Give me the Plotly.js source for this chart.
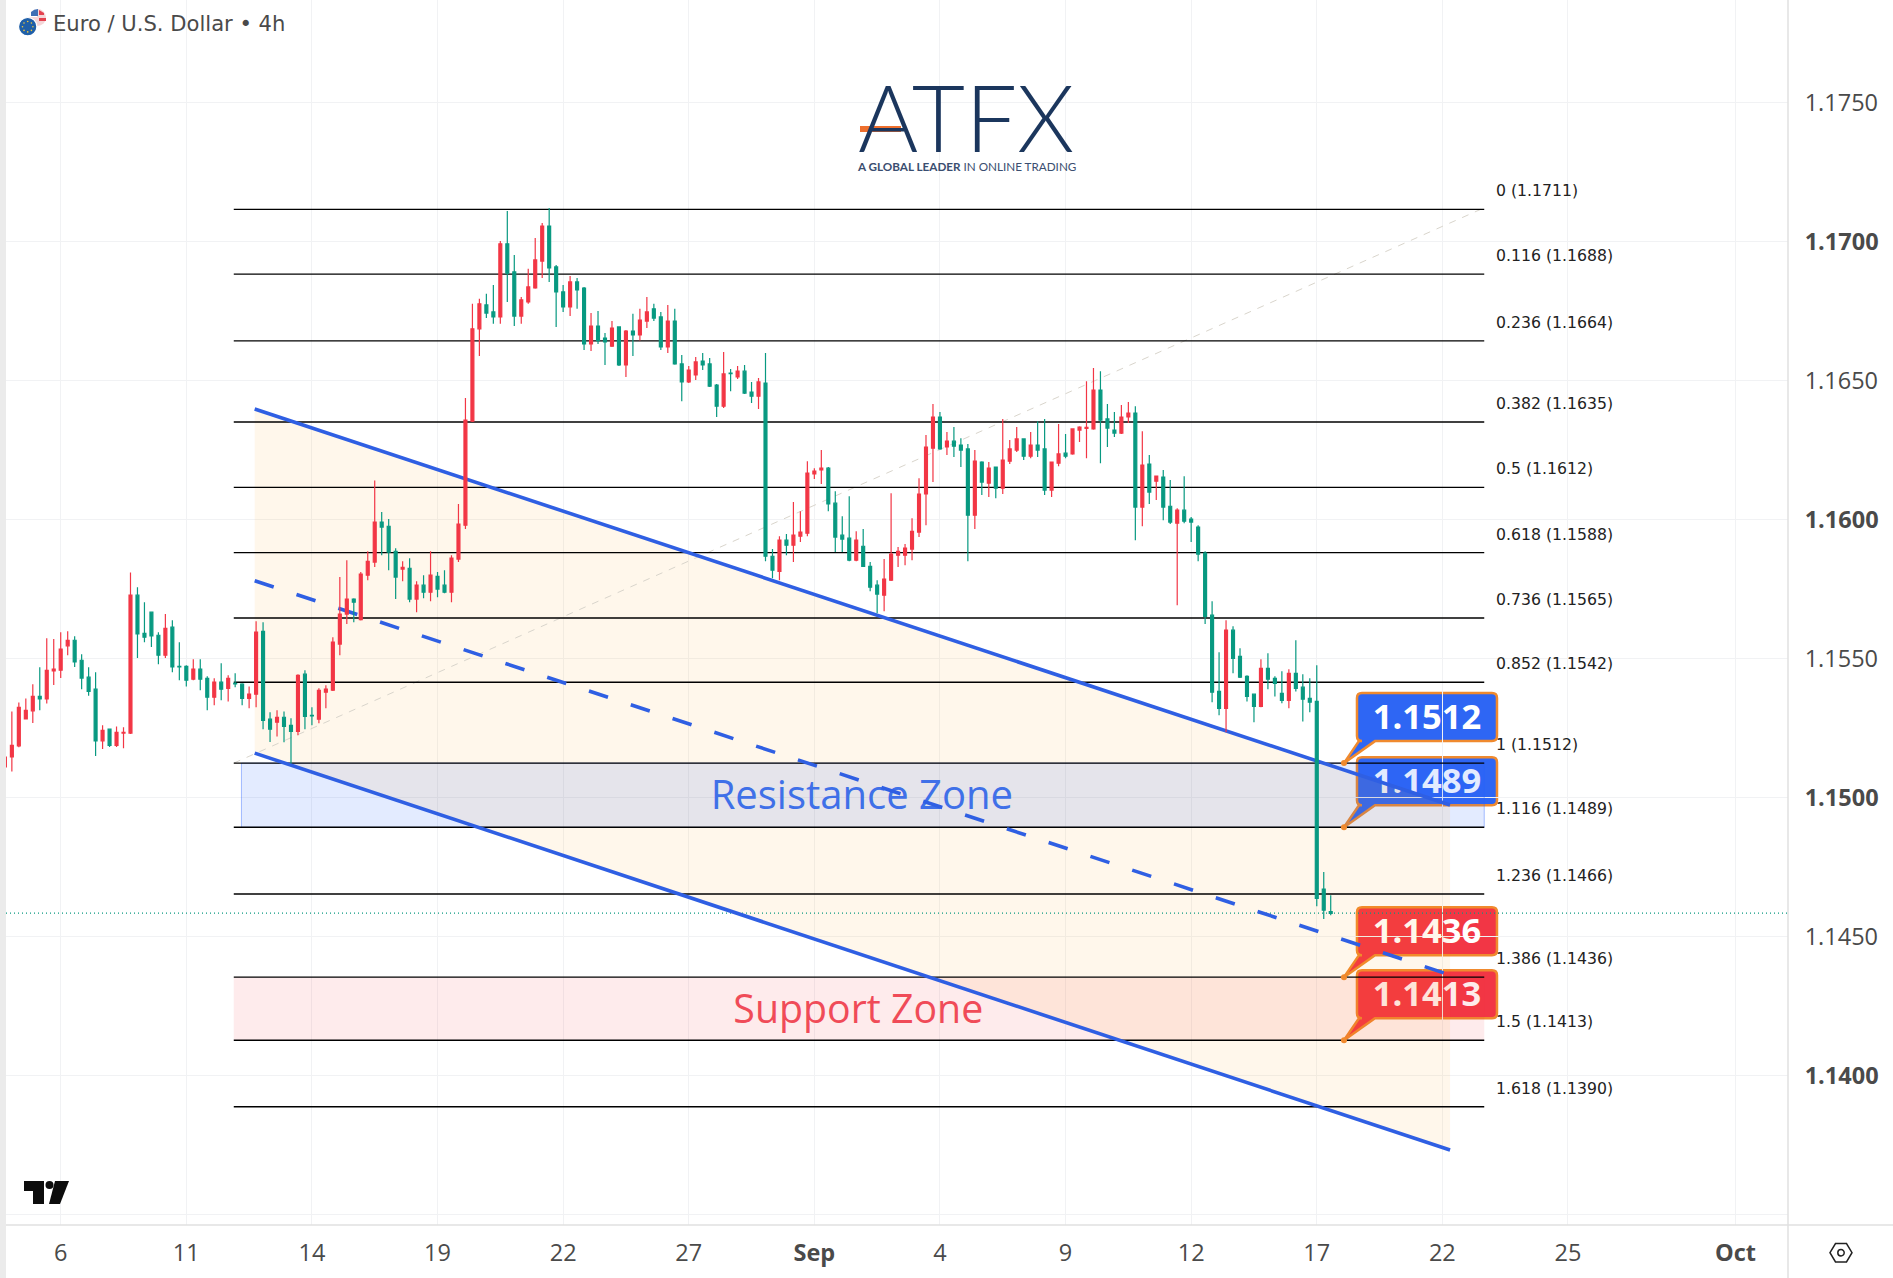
<!DOCTYPE html>
<html>
<head>
<meta charset="utf-8">
<script src="https://cdn.plot.ly/plotly-3.0.1.min.js"></script>
<style>
  html, body { margin: 0; padding: 0; background: #fff; }
  #chart { width: 1893px; height: 1278px; }
</style>
</head>
<body>
<div id="chart"></div>
<script>
// EUR/USD 4h candles, one row per 10 bars (red = up, green = down)
var opens = [
  1.15109,1.15145,1.15185,1.15282,1.15311,1.15363,1.15354,1.15455,1.15457,1.15545,
  1.15565,1.15493,1.15432,1.15389,1.15203,1.15245,1.15187,1.15231,1.15231,1.15727,
  1.15590,1.15666,1.15583,1.15511,1.15612,1.15471,1.15471,1.15425,1.15461,1.15428,
  1.15360,1.15414,1.15392,1.15410,1.15407,1.15356,1.15371,1.15597,1.15281,1.15270,
  1.15288,1.15259,1.15237,1.15443,1.15295,1.15281,1.15378,1.15385,1.15551,1.15659,
  1.15713,1.15639,1.15799,1.15846,1.15990,1.15975,1.15885,1.15821,1.15824,1.15713,
  1.15763,1.15738,1.15795,1.15763,1.15738,1.15857,1.15979,1.16353,1.16685,1.16771,
  1.16746,1.16728,1.16991,1.16890,1.16731,1.16782,1.16832,1.16929,1.17055,1.16908,
  1.16818,1.16764,1.16854,1.16832,1.16631,1.16695,1.16652,1.16623,1.16692,1.16555,
  1.16677,1.16663,1.16713,1.16757,1.16728,1.16620,1.16713,1.16559,1.16494,1.16519,
  1.16569,1.16559,1.16483,1.16407,1.16526,1.16512,1.16533,1.16458,1.16443,1.16490,
  1.15867,1.15813,1.15925,1.15907,1.15939,1.15950,1.16163,1.16178,1.16184,1.16058,
  1.15943,1.15932,1.15853,1.15903,1.15831,1.15763,1.15727,1.15781,1.15871,1.15871,
  1.15893,1.15954,1.16091,1.16256,1.16368,1.16260,1.16281,1.16267,1.16253,1.16015,
  1.16206,1.16130,1.16188,1.16112,1.16209,1.16249,1.16289,1.16227,1.16267,1.16253,
  1.16105,1.16202,1.16238,1.16235,1.16321,1.16327,1.16325,1.16465,1.16361,1.16321,
  1.16310,1.16368,1.16382,1.16044,1.16199,1.16137,1.16152,1.16047,1.15986,1.16033,
  1.16001,1.15972,1.15878,1.15655,1.15381,1.15320,1.15601,1.15507,1.15435,1.15371,
  1.15327,1.15464,1.15428,1.15374,1.15349,1.15446,1.15396,1.15356,1.15345,1.14670,
  1.14589
];
var highs = [
  1.15147,1.15309,1.15341,1.15355,1.15407,1.15468,1.15572,1.15569,1.15594,1.15597,
  1.15579,1.15515,1.15468,1.15450,1.15259,1.15247,1.15255,1.15252,1.15809,1.15756,
  1.15702,1.15668,1.15594,1.15659,1.15637,1.15558,1.15475,1.15497,1.15497,1.15435,
  1.15428,1.15482,1.15439,1.15446,1.15410,1.15399,1.15633,1.15630,1.15306,1.15313,
  1.15309,1.15284,1.15443,1.15457,1.15324,1.15392,1.15403,1.15576,1.15792,1.15853,
  1.15716,1.15810,1.15885,1.16140,1.16026,1.16001,1.15896,1.15849,1.15860,1.15777,
  1.15799,1.15885,1.15810,1.15817,1.15871,1.16055,1.16436,1.16775,1.16793,1.16811,
  1.16843,1.17001,1.17109,1.16951,1.16800,1.16901,1.17012,1.17066,1.17120,1.16915,
  1.16843,1.16875,1.16868,1.16836,1.16742,1.16749,1.16670,1.16713,1.16694,1.16681,
  1.16739,1.16757,1.16800,1.16775,1.16746,1.16771,1.16757,1.16591,1.16551,1.16584,
  1.16598,1.16580,1.16487,1.16602,1.16541,1.16551,1.16555,1.16494,1.16508,1.16598,
  1.15893,1.15939,1.15947,1.16062,1.16029,1.16209,1.16184,1.16249,1.16188,1.16101,
  1.16011,1.16083,1.15957,1.15965,1.15846,1.15781,1.15857,1.16094,1.15900,1.15911,
  1.16004,1.16148,1.16303,1.16415,1.16386,1.16314,1.16332,1.16292,1.16271,1.16249,
  1.16209,1.16206,1.16190,1.16361,1.16285,1.16332,1.16291,1.16314,1.16353,1.16361,
  1.16208,1.16343,1.16307,1.16327,1.16335,1.16497,1.16544,1.16533,1.16415,1.16386,
  1.16411,1.16422,1.16407,1.16317,1.16231,1.16158,1.16177,1.16141,1.16040,1.16155,
  1.16008,1.15979,1.15885,1.15705,1.15522,1.15637,1.15615,1.15536,1.15439,1.15373,
  1.15497,1.15518,1.15435,1.15453,1.15461,1.15565,1.15443,1.15428,1.15475,1.14731,
  1.14648
];
var lows = [
  1.15073,1.15093,1.15180,1.15280,1.15267,1.15313,1.15337,1.15404,1.15429,1.15511,
  1.15469,1.15389,1.15365,1.15149,1.15174,1.15181,1.15181,1.15176,1.15228,1.15501,
  1.15558,1.15541,1.15479,1.15501,1.15450,1.15421,1.15399,1.15421,1.15385,1.15313,
  1.15331,1.15349,1.15345,1.15396,1.15331,1.15320,1.15324,1.15245,1.15199,1.15219,
  1.15198,1.15122,1.15223,1.15245,1.15259,1.15266,1.15320,1.15382,1.15511,1.15623,
  1.15630,1.15636,1.15781,1.15828,1.15871,1.15817,1.15713,1.15777,1.15702,1.15666,
  1.15716,1.15705,1.15720,1.15734,1.15702,1.15846,1.15965,1.16350,1.16587,1.16724,
  1.16703,1.16703,1.16782,1.16695,1.16703,1.16775,1.16829,1.16868,1.16854,1.16692,
  1.16746,1.16731,1.16757,1.16609,1.16605,1.16631,1.16555,1.16620,1.16551,1.16512,
  1.16587,1.16643,1.16688,1.16713,1.16609,1.16598,1.16556,1.16425,1.16490,1.16501,
  1.16537,1.16476,1.16368,1.16400,1.16461,1.16505,1.16451,1.16418,1.16397,1.15849,
  1.15788,1.15781,1.15871,1.15846,1.15918,1.15939,1.16145,1.16127,1.16029,1.15882,
  1.15882,1.15849,1.15849,1.15828,1.15741,1.15662,1.15669,1.15778,1.15828,1.15835,
  1.15853,1.15936,1.15979,1.16134,1.16250,1.16231,1.16224,1.16188,1.15849,1.15965,
  1.16087,1.16080,1.16076,1.16091,1.16199,1.16242,1.16213,1.16220,1.16224,1.16087,
  1.16080,1.16191,1.16220,1.16232,1.16278,1.16220,1.16322,1.16202,1.16260,1.16296,
  1.16307,1.16346,1.15925,1.15975,1.16055,1.16069,1.15997,1.15983,1.15691,1.15986,
  1.15918,1.15849,1.15623,1.15342,1.15295,1.15234,1.15446,1.15429,1.15345,1.15270,
  1.15324,1.15389,1.15363,1.15338,1.15320,1.15381,1.15273,1.15306,1.14608,1.14562,
  1.14576
];
var closes = [
  1.15145,1.15187,1.15324,1.15313,1.15363,1.15354,1.15457,1.15461,1.15533,1.15565,
  1.15487,1.15429,1.15381,1.15203,1.15241,1.15187,1.15234,1.15234,1.15727,1.15588,
  1.15576,1.15581,1.15511,1.15608,1.15469,1.15469,1.15421,1.15461,1.15425,1.15360,
  1.15414,1.15389,1.15428,1.15408,1.15356,1.15371,1.15594,1.15277,1.15245,1.15288,
  1.15255,1.15237,1.15439,1.15291,1.15293,1.15385,1.15389,1.15558,1.15659,1.15713,
  1.15702,1.15803,1.15849,1.15990,1.15972,1.15882,1.15792,1.15827,1.15713,1.15763,
  1.15738,1.15799,1.15749,1.15738,1.15860,1.15983,1.16357,1.16685,1.16775,1.16742,
  1.16728,1.16991,1.16885,1.16731,1.16789,1.16836,1.16933,1.17055,1.16904,1.16818,
  1.16764,1.16854,1.16825,1.16631,1.16695,1.16643,1.16638,1.16688,1.16555,1.16677,
  1.16663,1.16717,1.16746,1.16724,1.16620,1.16713,1.16559,1.16494,1.16537,1.16566,
  1.16555,1.16479,1.16407,1.16523,1.16524,1.16533,1.16454,1.16443,1.16494,1.15867,
  1.15817,1.15925,1.15907,1.15943,1.15954,1.16166,1.16173,1.16184,1.16055,1.15936,
  1.15929,1.15853,1.15925,1.15831,1.15756,1.15731,1.15785,1.15875,1.15885,1.15896,
  1.15957,1.16091,1.16260,1.16368,1.16253,1.16281,1.16263,1.16249,1.16015,1.16209,
  1.16134,1.16184,1.16112,1.16213,1.16253,1.16289,1.16227,1.16267,1.16249,1.16105,
  1.16206,1.16235,1.16227,1.16325,1.16332,1.16331,1.16465,1.16357,1.16328,1.16310,
  1.16368,1.16382,1.16044,1.16195,1.16098,1.16155,1.16044,1.15990,1.16033,1.15993,
  1.15990,1.15875,1.15651,1.15378,1.15320,1.15601,1.15500,1.15432,1.15363,1.15327,
  1.15464,1.15425,1.15410,1.15349,1.15446,1.15392,1.15353,1.15342,1.14636,1.14594,
  1.14582
];
var firstBar = -8;
var barIndex = opens.map(function (v, i) { return firstBar + i; });

// time axis, bar index of each labelled session (Aug 6 = 0, 6 bars a day)
var xTickVals = [0, 18, 36, 54, 72, 90, 108, 126, 144, 162, 180, 198, 216, 240];
var xTickText = ['6', '11', '14', '19', '22', '27', '<b>Sep</b>', '4', '9', '12', '17', '22', '25', '<b>Oct</b>'];

var yTickVals = [1.135, 1.14, 1.145, 1.15, 1.155, 1.16, 1.165, 1.17, 1.175];
var yTickText = ['', '<b>1.1400</b>', '1.1450', '<b>1.1500</b>', '1.1550', '<b>1.1600</b>', '1.1650', '<b>1.1700</b>', '1.1750'];

// fibonacci retracement
var fibPrices = [1.17115, 1.16882, 1.16642, 1.16350, 1.16115, 1.15880, 1.15645, 1.15414, 1.15123, 1.14892, 1.14652, 1.14353, 1.14126, 1.13887];
var fibLabels = ['0 (1.1711)', '0.116 (1.1688)', '0.236 (1.1664)', '0.382 (1.1635)', '0.5 (1.1612)', '0.618 (1.1588)',
  '0.736 (1.1565)', '0.852 (1.1542)', '1 (1.1512)', '1.116 (1.1489)', '1.236 (1.1466)', '1.386 (1.1436)', '1.5 (1.1413)', '1.618 (1.1390)'];
var fibSpan = [24.8, 204];
var fibTrendX = [24.8, 203.5];
var fibTrendY = [1.15123, 1.17115];

// descending channel
var channelX = [27.8, 199.1];
var channelUpper = [1.16397, 1.14972];
var channelMiddle = [1.15779, 1.14361];
var channelLower = [1.15159, 1.13731];

var resistanceSpan = [25.9, 204];
var resistanceLevels = [1.15123, 1.14892];
var supportSpan = [24.8, 204];
var supportLevels = [1.14353, 1.14126];

var calloutBar = 183.9;
var calloutPrices = [1.15123, 1.14892, 1.14353, 1.14126];
var calloutTexts = ['1.1512', '1.1489', '1.1436', '1.1413'];
var calloutColors = ['#2E66F4', '#2E66F4', '#F23645', '#F23645'];
var calloutLabelBar = 195.8;
var calloutLabelLift = 0.00153;

var lastPrice = 1.14583;
var xRange = [-7.84, 247.53];
var yRange = [1.134615, 1.17868];

// page pixel -> paper fraction, for the chrome that is not tied to the data
var PLOT_W = 1782, PLOT_H = 1225, LEFT = 6;
function px(x) { return (x - LEFT) / PLOT_W; }
function py(y) { return 1 - y / PLOT_H; }

var FONT = '"Open Sans", sans-serif';
var ORANGE = '#F08A2E';

function chrome(extra) {
  return Object.assign({
    layer: 'above', xref: 'paper', yref: 'paper',
    xsizemode: 'pixel', ysizemode: 'pixel', xanchor: px(0), yanchor: 1,
    line: { width: 0 }
  }, extra);
}
function dot(cx, cy, r, color, lineColor, lineWidth) {
  return chrome({
    type: 'circle', x0: cx - r, x1: cx + r, y0: -cy - r, y1: -cy + r,
    fillcolor: color, line: { color: lineColor || color, width: lineWidth || 0 }
  });
}
function calloutShape(price, color) {
  var path = 'M0,0 L15,22 L18,22 Q13,22 13,27 L13,65 Q13,70 18,70 L148,70 Q153,70 153,65 ' +
    'L153,27 Q153,22 148,22 L31,22 Z';
  return {
    type: 'path', layer: 'below', xref: 'x', yref: 'y',
    xsizemode: 'pixel', ysizemode: 'pixel', xanchor: calloutBar, yanchor: price,
    path: path, fillcolor: color, line: { color: ORANGE, width: 2.5 }
  };
}

var shapes = calloutPrices.map(function (p, i) { return calloutShape(p, calloutColors[i]); });

// left strip, axis borders
shapes.push(chrome({ type: 'rect', x0: 0, x1: 6, y0: 0, y1: -1278, fillcolor: '#EBEBEB' }));
shapes.push(chrome({ type: 'path', path: 'M6,-1225 L1893,-1225', line: { color: '#E0E0E0', width: 1.5 } }));
shapes.push(chrome({ type: 'path', path: 'M1788,0 L1788,-1278', line: { color: '#E0E0E0', width: 1.5 } }));

// tradingview mark
shapes.push(chrome({ type: 'path', path: 'M24,-1181 L44,-1181 L44,-1204 L33,-1204 L33,-1191 L24,-1191 Z', fillcolor: '#0C0C0C' }));
shapes.push(dot(49.5, 1185, 4, '#0C0C0C'));
shapes.push(chrome({ type: 'path', path: 'M55,-1181 L69,-1181 L60,-1204 L49,-1204 Z', fillcolor: '#0C0C0C' }));

// chart settings icon
shapes.push(chrome({ type: 'path', path: 'M1830,-1252.7 L1835.5,-1243.5 L1846.5,-1243.5 L1852,-1252.7 L1846.5,-1262 L1835.5,-1262 Z',
  fillcolor: 'rgba(0,0,0,0)', line: { color: '#222', width: 1.5 } }));
shapes.push(dot(1841, 1252.7, 3.2, '#fff', '#222', 1.5));

// currency pair flags
shapes.push(dot(37.5, 17.5, 8.5, '#F4D6D8'));
shapes.push(chrome({ type: 'path', path: 'M29,-17 Q30,-9 37,-9 L37,-17 Z', fillcolor: '#fff' }));
shapes.push(chrome({ type: 'path', path: 'M31,-12 Q34,-9 38,-9 L38,-16 L31,-16 Z', fillcolor: '#3F6FB5' }));
shapes.push(chrome({ type: 'path', path: 'M39,-10 L44,-13 L44,-15 L39,-15 Z', fillcolor: '#E4414E' }));
shapes.push(chrome({ type: 'path', path: 'M39,-18 L46,-18 L46,-21 L39,-21 Z', fillcolor: '#E4414E' }));
shapes.push(dot(27.7, 26.7, 9.2, '#1F5FA8', '#fff', 1.2));
[[27.7, 21.5], [31.4, 23], [32.9, 26.7], [31.4, 30.4], [27.7, 31.9], [24, 30.4], [22.5, 26.7], [24, 23]].forEach(function (c) {
  shapes.push(dot(c[0], c[1], 0.8, '#F2C83B'));
});

// logo bar
shapes.push(chrome({ type: 'path', path: 'M860,-129 L901,-129', line: { color: '#EE6F2D', width: 6 } }));

var fibX = [], fibY = [];
fibPrices.forEach(function (p) {
  fibX.push(fibSpan[0], fibSpan[1], null);
  fibY.push(p, p, null);
});

var traces = [
  // callout numbers sit under the drawings, the channel line crosses 1.1489
  {
    type: 'scatter', mode: 'text', x: calloutTexts.map(function () { return calloutLabelBar; }),
    y: calloutPrices.map(function (p) { return p + calloutLabelLift; }),
    text: calloutTexts, textposition: 'middle center',
    textfont: { family: FONT, size: 34.5, color: '#fff', weight: 700 }
  },
  {
    type: 'scatter', mode: 'lines', fill: 'toself', fillcolor: 'rgba(41,98,255,0.13)',
    x: [resistanceSpan[0], resistanceSpan[1], resistanceSpan[1], resistanceSpan[0], resistanceSpan[0]],
    y: [resistanceLevels[0], resistanceLevels[0], resistanceLevels[1], resistanceLevels[1], resistanceLevels[0]],
    line: { color: 'rgba(41,98,255,0.4)', width: 1 }
  },
  {
    type: 'scatter', mode: 'lines', fill: 'toself', fillcolor: 'rgba(242,54,69,0.1)',
    x: [supportSpan[0], supportSpan[1], supportSpan[1], supportSpan[0], supportSpan[0]],
    y: [supportLevels[0], supportLevels[0], supportLevels[1], supportLevels[1], supportLevels[0]],
    line: { width: 0 }
  },
  {
    type: 'scatter', mode: 'lines', fill: 'toself', fillcolor: 'rgba(255,152,0,0.08)',
    x: [channelX[0], channelX[1], channelX[1], channelX[0], channelX[0]],
    y: [channelUpper[0], channelUpper[1], channelLower[1], channelLower[0], channelUpper[0]],
    line: { width: 0 }
  },
  {
    type: 'scatter', mode: 'text', x: [114.8, 114.3], y: [1.14994, 1.14224],
    text: ['Resistance Zone', 'Support Zone'], textposition: 'middle center',
    textfont: { family: FONT, size: [40, 39.3], color: ['#3F70E8', '#F04B58'] }
  },
  {
    type: 'scatter', mode: 'lines', x: fibTrendX, y: fibTrendY,
    line: { color: '#D9D5CC', width: 1, dash: '7px,7px' }
  },
  { type: 'scatter', mode: 'lines', x: fibX, y: fibY, line: { color: '#000', width: 1.4 } },
  {
    type: 'scatter', mode: 'lines', x: xRange, y: [lastPrice, lastPrice],
    line: { color: '#089981', width: 1.2, dash: '1px,3px' }
  },
  {
    type: 'scatter', mode: 'markers', x: calloutPrices.map(function () { return calloutBar; }), y: calloutPrices,
    marker: { color: ORANGE, size: 6 }
  },
  { type: 'scatter', mode: 'lines', x: channelX, y: channelUpper, line: { color: '#2F5FE3', width: 3.6 } },
  { type: 'scatter', mode: 'lines', x: channelX, y: channelLower, line: { color: '#2F5FE3', width: 3.6 } },
  { type: 'scatter', mode: 'lines', x: channelX, y: channelMiddle, line: { color: '#2F5FE3', width: 3.6, dash: '20px,24px' } },
  {
    type: 'candlestick', xaxis: 'x2', yaxis: 'y2', x: barIndex,
    open: opens, high: highs, low: lows, close: closes,
    increasing: { line: { color: '#F23645', width: 1.2 }, fillcolor: '#F23645' },
    decreasing: { line: { color: '#089981', width: 1.2 }, fillcolor: '#089981' },
    whiskerwidth: 0
  }
];

var annotations = fibLabels.map(function (label, i) {
  return {
    xref: 'x', yref: 'y', x: 205.35, y: fibPrices[i], yshift: 18.4, xanchor: 'left', yanchor: 'middle',
    text: label, showarrow: false, font: { family: '"DejaVu Sans", sans-serif', size: 15.7, color: '#222' }
  };
});
annotations.push({
  xref: 'paper', yref: 'paper', x: px(51), y: py(23), xanchor: 'left', yanchor: 'middle',
  text: 'Euro / U.S. Dollar • 4h', showarrow: false, font: { family: '"DejaVu Sans", sans-serif', size: 21.1, color: '#4A4A4A' }
});
annotations.push({
  xref: 'paper', yref: 'paper', x: px(966.5), y: py(116), xanchor: 'center', yanchor: 'middle',
  text: 'ATFX', showarrow: false, font: { family: 'Lato, sans-serif', size: 92, color: '#1B365D', weight: 300 }
});
annotations.push({
  xref: 'paper', yref: 'paper', x: px(966.5), y: py(166), xanchor: 'center', yanchor: 'middle',
  text: '<b>A GLOBAL LEADER</b> IN ONLINE TRADING', showarrow: false,
  font: { family: 'Lato, sans-serif', size: 11.7, color: '#3A4E70' }
});

var layout = {
  width: 1893,
  height: 1278,
  margin: { l: LEFT, r: 105, t: 0, b: 53, pad: 0 },
  paper_bgcolor: '#fff',
  plot_bgcolor: '#fff',
  showlegend: false,
  hovermode: false,
  boxgap: 0.4,
  xaxis: {
    range: xRange, type: 'linear', tickmode: 'array', tickvals: xTickVals, ticktext: xTickText,
    showgrid: true, gridcolor: '#F1F2F4', gridwidth: 1, zeroline: false, showline: false,
    ticks: 'outside', ticklen: 7, tickcolor: 'rgba(0,0,0,0)',
    tickfont: { family: FONT, size: 23.5, color: '#4A4A4A' }, tickangle: 0, fixedrange: true
  },
  yaxis: {
    range: yRange, side: 'right', tickmode: 'array', tickvals: yTickVals, ticktext: yTickText,
    showgrid: true, gridcolor: '#F1F2F4', gridwidth: 1, zeroline: false, showline: false,
    ticks: 'outside', ticklen: 11, tickcolor: 'rgba(0,0,0,0)',
    tickfont: { family: FONT, size: 23.5, color: '#4A4A4A' }, fixedrange: true
  },
  // candles go on an overlaid pair of axes so they stay above every drawing
  xaxis2: { overlaying: 'x', anchor: 'y2', range: xRange, visible: false, rangeslider: { visible: false }, fixedrange: true },
  yaxis2: { overlaying: 'y', anchor: 'x2', range: yRange, visible: false, fixedrange: true },
  shapes: shapes,
  annotations: annotations
};

Plotly.newPlot('chart', traces, layout, { displayModeBar: false, staticPlot: true });
</script>
</body>
</html>
